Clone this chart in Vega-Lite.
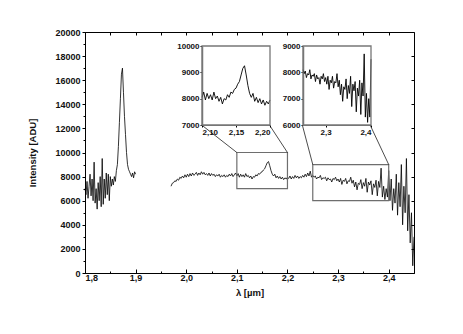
{
  "$schema": "https://vega.github.io/schema/vega-lite/v6.json",
  "width": 329,
  "height": 241,
  "autosize": "none",
  "padding": {"left": 85, "top": 32, "right": 49, "bottom": 61},
  "background": "white",
  "config": {
    "view": {"stroke": "black", "strokeWidth": 1},
    "font": "Liberation Sans",
    "axis": {"labelFont": "Liberation Sans", "labelFontWeight": "bold", "labelFontSize": 9, "labelColor": "#111", "titleFont": "Liberation Sans", "titleFontWeight": "bold", "titleFontSize": 9.5, "titleColor": "#111", "domainColor": "black", "tickColor": "black", "grid": false}
  },
  "datasets": {
    "spec": [
      {"seg": "a", "wl": 1.800, "I": 7000}, {"seg": "a", "wl": 1.802, "I": 6500}, {"seg": "a", "wl": 1.804, "I": 7600}, {"seg": "a", "wl": 1.806, "I": 6200},
      {"seg": "a", "wl": 1.808, "I": 7200}, {"seg": "a", "wl": 1.810, "I": 8200}, {"seg": "a", "wl": 1.812, "I": 6400}, {"seg": "a", "wl": 1.814, "I": 7800},
      {"seg": "a", "wl": 1.816, "I": 6000}, {"seg": "a", "wl": 1.818, "I": 9200}, {"seg": "a", "wl": 1.820, "I": 5800}, {"seg": "a", "wl": 1.822, "I": 7000},
      {"seg": "a", "wl": 1.824, "I": 5300}, {"seg": "a", "wl": 1.826, "I": 7500}, {"seg": "a", "wl": 1.828, "I": 6000}, {"seg": "a", "wl": 1.830, "I": 8000},
      {"seg": "a", "wl": 1.832, "I": 5500}, {"seg": "a", "wl": 1.834, "I": 9500}, {"seg": "a", "wl": 1.836, "I": 5700}, {"seg": "a", "wl": 1.838, "I": 7800},
      {"seg": "a", "wl": 1.840, "I": 6200}, {"seg": "a", "wl": 1.842, "I": 8300}, {"seg": "a", "wl": 1.844, "I": 6500}, {"seg": "a", "wl": 1.846, "I": 8200},
      {"seg": "a", "wl": 1.848, "I": 6000}, {"seg": "a", "wl": 1.850, "I": 8000}, {"seg": "a", "wl": 1.852, "I": 7200}, {"seg": "a", "wl": 1.854, "I": 7800},
      {"seg": "a", "wl": 1.856, "I": 7300}, {"seg": "a", "wl": 1.858, "I": 8000}, {"seg": "a", "wl": 1.860, "I": 7600}, {"seg": "a", "wl": 1.862, "I": 8500},
      {"seg": "a", "wl": 1.864, "I": 9000}, {"seg": "a", "wl": 1.866, "I": 10500}, {"seg": "a", "wl": 1.868, "I": 12500}, {"seg": "a", "wl": 1.870, "I": 14500},
      {"seg": "a", "wl": 1.872, "I": 16500}, {"seg": "a", "wl": 1.874, "I": 17000}, {"seg": "a", "wl": 1.876, "I": 15000}, {"seg": "a", "wl": 1.878, "I": 13000},
      {"seg": "a", "wl": 1.880, "I": 11500}, {"seg": "a", "wl": 1.882, "I": 10000}, {"seg": "a", "wl": 1.884, "I": 9000}, {"seg": "a", "wl": 1.886, "I": 8600},
      {"seg": "a", "wl": 1.888, "I": 8400}, {"seg": "a", "wl": 1.890, "I": 8200}, {"seg": "a", "wl": 1.892, "I": 8000}, {"seg": "a", "wl": 1.894, "I": 8300},
      {"seg": "a", "wl": 1.896, "I": 7900}, {"seg": "a", "wl": 1.898, "I": 8400}, {"seg": "a", "wl": 1.900, "I": 8200},
      {"seg": "b", "wl": 1.9700, "I": 7200}, {"seg": "b", "wl": 1.9725, "I": 7450}, {"seg": "b", "wl": 1.9750, "I": 7500}, {"seg": "b", "wl": 1.9775, "I": 7650},
      {"seg": "b", "wl": 1.9800, "I": 7600}, {"seg": "b", "wl": 1.9825, "I": 7800}, {"seg": "b", "wl": 1.9850, "I": 7700}, {"seg": "b", "wl": 1.9875, "I": 7950},
      {"seg": "b", "wl": 1.9900, "I": 7850}, {"seg": "b", "wl": 1.9925, "I": 8050}, {"seg": "b", "wl": 1.9950, "I": 7900}, {"seg": "b", "wl": 1.9975, "I": 8150},
      {"seg": "b", "wl": 2.0000, "I": 7950}, {"seg": "b", "wl": 2.0025, "I": 8200}, {"seg": "b", "wl": 2.0050, "I": 8000}, {"seg": "b", "wl": 2.0075, "I": 8250},
      {"seg": "b", "wl": 2.0100, "I": 8050}, {"seg": "b", "wl": 2.0125, "I": 8300}, {"seg": "b", "wl": 2.0150, "I": 8100}, {"seg": "b", "wl": 2.0175, "I": 8200},
      {"seg": "b", "wl": 2.0200, "I": 8350}, {"seg": "b", "wl": 2.0225, "I": 8100}, {"seg": "b", "wl": 2.0250, "I": 8300}, {"seg": "b", "wl": 2.0275, "I": 8150},
      {"seg": "b", "wl": 2.0300, "I": 8400}, {"seg": "b", "wl": 2.0325, "I": 8200}, {"seg": "b", "wl": 2.0350, "I": 8350}, {"seg": "b", "wl": 2.0375, "I": 8150},
      {"seg": "b", "wl": 2.0400, "I": 8250}, {"seg": "b", "wl": 2.0425, "I": 8100}, {"seg": "b", "wl": 2.0450, "I": 8300}, {"seg": "b", "wl": 2.0475, "I": 8050},
      {"seg": "b", "wl": 2.0500, "I": 8250}, {"seg": "b", "wl": 2.0525, "I": 8100}, {"seg": "b", "wl": 2.0550, "I": 8200}, {"seg": "b", "wl": 2.0575, "I": 8000},
      {"seg": "b", "wl": 2.0600, "I": 8150}, {"seg": "b", "wl": 2.0625, "I": 8050}, {"seg": "b", "wl": 2.0650, "I": 8200}, {"seg": "b", "wl": 2.0675, "I": 7950},
      {"seg": "b", "wl": 2.0700, "I": 8100}, {"seg": "b", "wl": 2.0725, "I": 8000}, {"seg": "b", "wl": 2.0750, "I": 8150}, {"seg": "b", "wl": 2.0775, "I": 7950},
      {"seg": "b", "wl": 2.0800, "I": 8100}, {"seg": "b", "wl": 2.0825, "I": 8000}, {"seg": "b", "wl": 2.0850, "I": 8200}, {"seg": "b", "wl": 2.0875, "I": 8050},
      {"seg": "b", "wl": 2.0900, "I": 8250}, {"seg": "b", "wl": 2.0925, "I": 8000}, {"seg": "b", "wl": 2.0950, "I": 8150}, {"seg": "b", "wl": 2.0975, "I": 8300},
      {"seg": "b", "wl": 2.1000, "I": 8050}, {"seg": "b", "wl": 2.1025, "I": 8250}, {"seg": "b", "wl": 2.1050, "I": 7950}, {"seg": "b", "wl": 2.1075, "I": 8200},
      {"seg": "b", "wl": 2.1100, "I": 8000}, {"seg": "b", "wl": 2.1125, "I": 8150}, {"seg": "b", "wl": 2.1150, "I": 7950}, {"seg": "b", "wl": 2.1175, "I": 8250},
      {"seg": "b", "wl": 2.1200, "I": 8000}, {"seg": "b", "wl": 2.1225, "I": 8100}, {"seg": "b", "wl": 2.1250, "I": 7900}, {"seg": "b", "wl": 2.1275, "I": 8050},
      {"seg": "b", "wl": 2.1300, "I": 7800}, {"seg": "b", "wl": 2.1325, "I": 8000}, {"seg": "b", "wl": 2.1350, "I": 7950}, {"seg": "b", "wl": 2.1375, "I": 8150},
      {"seg": "b", "wl": 2.1400, "I": 8050}, {"seg": "b", "wl": 2.1425, "I": 8250}, {"seg": "b", "wl": 2.1450, "I": 8200}, {"seg": "b", "wl": 2.1475, "I": 8350},
      {"seg": "b", "wl": 2.1500, "I": 8400}, {"seg": "b", "wl": 2.1525, "I": 8550}, {"seg": "b", "wl": 2.1550, "I": 8650}, {"seg": "b", "wl": 2.1575, "I": 8900},
      {"seg": "b", "wl": 2.1600, "I": 9150}, {"seg": "b", "wl": 2.1625, "I": 9250}, {"seg": "b", "wl": 2.1650, "I": 8900}, {"seg": "b", "wl": 2.1675, "I": 8500},
      {"seg": "b", "wl": 2.1700, "I": 8200}, {"seg": "b", "wl": 2.1725, "I": 8050}, {"seg": "b", "wl": 2.1750, "I": 8200}, {"seg": "b", "wl": 2.1775, "I": 7900},
      {"seg": "b", "wl": 2.1800, "I": 8050}, {"seg": "b", "wl": 2.1825, "I": 7850}, {"seg": "b", "wl": 2.1850, "I": 8000}, {"seg": "b", "wl": 2.1875, "I": 7800},
      {"seg": "b", "wl": 2.1900, "I": 7950}, {"seg": "b", "wl": 2.1925, "I": 7750}, {"seg": "b", "wl": 2.1950, "I": 7900}, {"seg": "b", "wl": 2.1975, "I": 7800},
      {"seg": "b", "wl": 2.2000, "I": 7950}, {"seg": "b", "wl": 2.2025, "I": 7850}, {"seg": "b", "wl": 2.2050, "I": 8050}, {"seg": "b", "wl": 2.2075, "I": 7800},
      {"seg": "b", "wl": 2.2100, "I": 8000}, {"seg": "b", "wl": 2.2125, "I": 7850}, {"seg": "b", "wl": 2.2150, "I": 8100}, {"seg": "b", "wl": 2.2175, "I": 7900},
      {"seg": "b", "wl": 2.2200, "I": 8050}, {"seg": "b", "wl": 2.2225, "I": 7850}, {"seg": "b", "wl": 2.2250, "I": 8000}, {"seg": "b", "wl": 2.2275, "I": 7900},
      {"seg": "b", "wl": 2.2300, "I": 8100}, {"seg": "b", "wl": 2.2325, "I": 7950}, {"seg": "b", "wl": 2.2350, "I": 8200}, {"seg": "b", "wl": 2.2375, "I": 8000},
      {"seg": "b", "wl": 2.2400, "I": 8300}, {"seg": "b", "wl": 2.2425, "I": 8050}, {"seg": "b", "wl": 2.2450, "I": 8450}, {"seg": "b", "wl": 2.2475, "I": 7950},
      {"seg": "b", "wl": 2.2500, "I": 8100}, {"seg": "b", "wl": 2.2525, "I": 7950}, {"seg": "b", "wl": 2.2550, "I": 8050}, {"seg": "b", "wl": 2.2575, "I": 7800},
      {"seg": "b", "wl": 2.2600, "I": 7950}, {"seg": "b", "wl": 2.2625, "I": 7900}, {"seg": "b", "wl": 2.2650, "I": 8100}, {"seg": "b", "wl": 2.2675, "I": 7750},
      {"seg": "b", "wl": 2.2700, "I": 7900}, {"seg": "b", "wl": 2.2725, "I": 7850}, {"seg": "b", "wl": 2.2750, "I": 7950}, {"seg": "b", "wl": 2.2775, "I": 7650},
      {"seg": "b", "wl": 2.2800, "I": 7900}, {"seg": "b", "wl": 2.2825, "I": 7750}, {"seg": "b", "wl": 2.2850, "I": 7800}, {"seg": "b", "wl": 2.2875, "I": 7550},
      {"seg": "b", "wl": 2.2900, "I": 7850}, {"seg": "b", "wl": 2.2925, "I": 7750}, {"seg": "b", "wl": 2.2950, "I": 7950}, {"seg": "b", "wl": 2.2975, "I": 7650},
      {"seg": "b", "wl": 2.3000, "I": 7800}, {"seg": "b", "wl": 2.3025, "I": 7550}, {"seg": "b", "wl": 2.3050, "I": 7850}, {"seg": "b", "wl": 2.3075, "I": 7350},
      {"seg": "b", "wl": 2.3100, "I": 7700}, {"seg": "b", "wl": 2.3125, "I": 7600}, {"seg": "b", "wl": 2.3150, "I": 7850}, {"seg": "b", "wl": 2.3175, "I": 7400},
      {"seg": "b", "wl": 2.3200, "I": 7650}, {"seg": "b", "wl": 2.3225, "I": 7600}, {"seg": "b", "wl": 2.3250, "I": 7950}, {"seg": "b", "wl": 2.3275, "I": 7450},
      {"seg": "b", "wl": 2.3300, "I": 7700}, {"seg": "b", "wl": 2.3325, "I": 7150}, {"seg": "b", "wl": 2.3350, "I": 7550}, {"seg": "b", "wl": 2.3375, "I": 6900},
      {"seg": "b", "wl": 2.3400, "I": 7450}, {"seg": "b", "wl": 2.3425, "I": 7350}, {"seg": "b", "wl": 2.3450, "I": 7750}, {"seg": "b", "wl": 2.3475, "I": 7000},
      {"seg": "b", "wl": 2.3500, "I": 7500}, {"seg": "b", "wl": 2.3525, "I": 7200}, {"seg": "b", "wl": 2.3550, "I": 7850}, {"seg": "b", "wl": 2.3575, "I": 6700},
      {"seg": "b", "wl": 2.3600, "I": 7550}, {"seg": "b", "wl": 2.3625, "I": 7300}, {"seg": "b", "wl": 2.3650, "I": 7650}, {"seg": "b", "wl": 2.3675, "I": 6500},
      {"seg": "b", "wl": 2.3700, "I": 7400}, {"seg": "b", "wl": 2.3725, "I": 7100}, {"seg": "b", "wl": 2.3750, "I": 7700}, {"seg": "b", "wl": 2.3775, "I": 6400},
      {"seg": "b", "wl": 2.3800, "I": 7600}, {"seg": "b", "wl": 2.3825, "I": 7100}, {"seg": "b", "wl": 2.3850, "I": 8700}, {"seg": "b", "wl": 2.3875, "I": 6300},
      {"seg": "b", "wl": 2.3900, "I": 7200}, {"seg": "b", "wl": 2.3925, "I": 6100}, {"seg": "b", "wl": 2.3950, "I": 7000}, {"seg": "b", "wl": 2.3975, "I": 6300},
      {"seg": "b", "wl": 2.4000, "I": 8500}, {"seg": "b", "wl": 2.4025, "I": 6000}, {"seg": "b", "wl": 2.4050, "I": 7800}, {"seg": "b", "wl": 2.4075, "I": 5200},
      {"seg": "b", "wl": 2.4100, "I": 7000}, {"seg": "b", "wl": 2.4125, "I": 5800}, {"seg": "b", "wl": 2.4150, "I": 8200}, {"seg": "b", "wl": 2.4175, "I": 4800},
      {"seg": "b", "wl": 2.4200, "I": 7500}, {"seg": "b", "wl": 2.4225, "I": 5500}, {"seg": "b", "wl": 2.4250, "I": 9000}, {"seg": "b", "wl": 2.4275, "I": 4000},
      {"seg": "b", "wl": 2.4300, "I": 7200}, {"seg": "b", "wl": 2.4325, "I": 5000}, {"seg": "b", "wl": 2.4350, "I": 9500}, {"seg": "b", "wl": 2.4375, "I": 3500},
      {"seg": "b", "wl": 2.4400, "I": 6500}, {"seg": "b", "wl": 2.4425, "I": 2500}, {"seg": "b", "wl": 2.4450, "I": 5000}, {"seg": "b", "wl": 2.4475, "I": 600},
      {"seg": "b", "wl": 2.4500, "I": 3000}
    ],
    "boxes": [
      {"x1": 2.1, "x2": 2.2, "y1": 7000, "y2": 10000},
      {"x1": 2.25, "x2": 2.4, "y1": 6000, "y2": 9000}
    ],
    "links": [
      {"x1": 2.1, "y1": 10000, "x2": 2.0305, "y2": 12282},
      {"x1": 2.2, "y1": 10000, "x2": 2.1644, "y2": 12282},
      {"x1": 2.25, "y1": 9000, "x2": 2.2294, "y2": 12282},
      {"x1": 2.4, "y1": 9000, "x2": 2.3633, "y2": 12282}
    ]
  },
  "layer": [
    {
      "data": {"name": "spec"},
      "mark": {"type": "line", "color": "black", "strokeWidth": 0.8},
      "encoding": {
        "x": {"field": "wl", "type": "quantitative", "scale": {"domain": [1.8, 2.45], "nice": false, "zero": false},
          "axis": {"orient": "bottom", "values": [1.8, 1.9, 2.0, 2.1, 2.2, 2.3, 2.4], "labelExpr": "replace(format(datum.value, '.1f'), '.', ',')", "tickSize": -4, "labelPadding": 4, "title": "λ [µm]", "titlePadding": 5}},
        "y": {"field": "I", "type": "quantitative", "scale": {"domain": [0, 20000], "nice": false, "zero": true},
          "axis": {"orient": "left", "values": [0, 2000, 4000, 6000, 8000, 10000, 12000, 14000, 16000, 18000, 20000], "format": "d", "tickSize": 3, "labelPadding": 2, "title": "Intensity [ADU]", "titlePadding": 17}},
        "detail": {"field": "seg"}
      }
    },
    {
      "data": {"name": "boxes"},
      "mark": {"type": "rule", "opacity": 0},
      "encoding": {
        "x": {"field": "x1", "type": "quantitative", "scale": {"domain": [1.8, 2.45], "nice": false, "zero": false},
          "axis": {"orient": "bottom", "values": [1.85, 1.95, 2.05, 2.15, 2.25, 2.35, 2.45], "labels": false, "domain": false, "tickSize": -2, "title": null}},
        "y": {"field": "y1", "type": "quantitative", "scale": {"domain": [0, 20000], "nice": false, "zero": true},
          "axis": {"orient": "left", "values": [1000, 3000, 5000, 7000, 9000, 11000, 13000, 15000, 17000, 19000], "labels": false, "domain": false, "tickSize": 2, "title": null}}
      }
    },
    {
      "data": {"name": "boxes"},
      "mark": {"type": "rule", "opacity": 0},
      "encoding": {
        "x": {"field": "x1", "type": "quantitative", "scale": {"domain": [1.8, 2.45], "nice": false, "zero": false},
          "axis": {"orient": "top", "values": [1.8, 1.85, 1.9, 1.95, 2.0, 2.05, 2.1, 2.15, 2.2, 2.25, 2.3, 2.35, 2.4, 2.45], "labels": false, "domain": false, "tickSize": -3, "title": null}},
        "y": {"field": "y1", "type": "quantitative", "scale": {"domain": [0, 20000], "nice": false, "zero": true},
          "axis": {"orient": "right", "values": [2000, 4000, 6000, 8000, 10000, 12000, 14000, 16000, 18000], "labels": false, "domain": false, "tickSize": -3, "title": null}}
      }
    },
    {
      "data": {"name": "boxes"},
      "mark": {"type": "rect", "fillOpacity": 0, "stroke": "#6e6e6e", "strokeWidth": 1.2},
      "encoding": {
        "x": {"field": "x1", "type": "quantitative", "scale": {"domain": [1.8, 2.45], "nice": false, "zero": false}, "axis": null},
        "x2": {"field": "x2"},
        "y": {"field": "y1", "type": "quantitative", "scale": {"domain": [0, 20000], "nice": false, "zero": true}, "axis": null},
        "y2": {"field": "y2"}
      }
    },
    {
      "data": {"name": "links"},
      "mark": {"type": "rule", "color": "black", "strokeWidth": 0.7},
      "encoding": {
        "x": {"field": "x1", "type": "quantitative", "scale": {"domain": [1.8, 2.45], "nice": false, "zero": false}, "axis": null},
        "x2": {"field": "x2"},
        "y": {"field": "y1", "type": "quantitative", "scale": {"domain": [0, 20000], "nice": false, "zero": true}, "axis": null},
        "y2": {"field": "y2"}
      }
    },
    {
      "data": {"name": "spec"},
      "transform": [{"filter": "datum.wl >= 2.1 && datum.wl <= 2.2"}],
      "mark": {"type": "line", "color": "black", "strokeWidth": 0.9},
      "encoding": {
        "x": {"field": "wl", "type": "quantitative", "scale": {"domain": [2.1, 2.2], "range": [117, 185], "nice": false, "zero": false},
          "axis": {"orient": "bottom", "offset": -148, "values": [2.1, 2.15, 2.2], "labelExpr": "replace(format(datum.value, '.2f'), '.', ',')", "tickSize": 2, "labelPadding": 1, "labelFontSize": 8, "domainColor": "#777", "title": null}},
        "y": {"field": "I", "type": "quantitative", "scale": {"domain": [7000, 10000], "range": [93, 14], "nice": false, "zero": false},
          "axis": {"orient": "left", "offset": -117, "values": [7000, 8000, 9000, 10000], "format": "d", "tickSize": 2, "labelPadding": 1, "labelFontSize": 8, "domainColor": "#777", "domainWidth": 1.5, "title": null}}
      }
    },
    {
      "data": {"values": [{"x1": 2.1, "x2": 2.2, "y1": 7000, "y2": 10000}]},
      "mark": {"type": "rect", "fillOpacity": 0, "stroke": "#777", "strokeWidth": 1.3},
      "encoding": {
        "x": {"field": "x1", "type": "quantitative", "scale": {"domain": [2.1, 2.2], "range": [117, 185], "nice": false, "zero": false}, "axis": null},
        "x2": {"field": "x2"},
        "y": {"field": "y1", "type": "quantitative", "scale": {"domain": [7000, 10000], "range": [93, 14], "nice": false, "zero": false}, "axis": null},
        "y2": {"field": "y2"}
      }
    },
    {
      "data": {"name": "spec"},
      "transform": [{"filter": "datum.wl >= 2.25 && datum.wl <= 2.4"}],
      "mark": {"type": "line", "color": "black", "strokeWidth": 0.9},
      "encoding": {
        "x": {"field": "wl", "type": "quantitative", "scale": {"domain": [2.25, 2.4], "range": [218, 286], "nice": false, "zero": false},
          "axis": {"orient": "bottom", "offset": -148, "values": [2.3, 2.4], "labelExpr": "replace(format(datum.value, '.1f'), '.', ',')", "tickSize": 2, "labelPadding": 1, "labelFontSize": 8, "domainColor": "#777", "title": null}},
        "y": {"field": "I", "type": "quantitative", "scale": {"domain": [6000, 9000], "range": [93, 14], "nice": false, "zero": false},
          "axis": {"orient": "left", "offset": -218, "values": [6000, 7000, 8000, 9000], "format": "d", "tickSize": 2, "labelPadding": 1, "labelFontSize": 8, "domainColor": "#777", "domainWidth": 1.5, "title": null}}
      }
    },
    {
      "data": {"values": [{"x1": 2.25, "x2": 2.4, "y1": 6000, "y2": 9000}]},
      "mark": {"type": "rect", "fillOpacity": 0, "stroke": "#777", "strokeWidth": 1.3},
      "encoding": {
        "x": {"field": "x1", "type": "quantitative", "scale": {"domain": [2.25, 2.4], "range": [218, 286], "nice": false, "zero": false}, "axis": null},
        "x2": {"field": "x2"},
        "y": {"field": "y1", "type": "quantitative", "scale": {"domain": [6000, 9000], "range": [93, 14], "nice": false, "zero": false}, "axis": null},
        "y2": {"field": "y2"}
      }
    }
  ],
  "resolve": {"scale": {"x": "independent", "y": "independent"}, "axis": {"x": "independent", "y": "independent"}}
}
